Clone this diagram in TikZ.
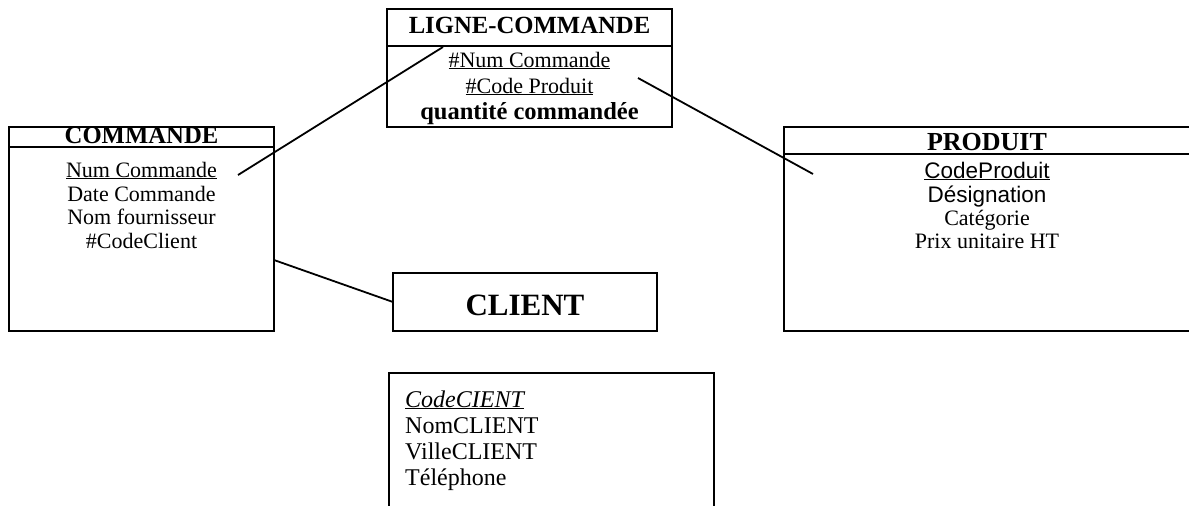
\documentclass[tikz,border=0pt]{standalone}
\usepackage{fontspec}
\setmainfont{Liberation Serif}
\newfontfamily\arialfont{Liberation Sans}
\tikzset{
  frame/.style={draw=black, line width=1.3pt, fill=none},
  conn/.style={draw=black, line width=1.8pt},
  attr/.style={anchor=base, inner sep=0pt, font=\fontsize{22}{26}\selectfont},
  sattr/.style={anchor=base, inner sep=0pt, font=\fontsize{22.5}{26}\arialfont},
  ttl/.style={anchor=base, inner sep=0pt, font=\fontsize{24.7}{28}\selectfont\bfseries},
  cattr/.style={anchor=base west, inner sep=0pt, font=\fontsize{24}{28}\selectfont},
}
\begin{document}
\begin{tikzpicture}[x=1pt,y=-1pt]
\useasboundingbox (0,0) rectangle (1189,506);
% LIGNE-COMMANDE
\draw[frame] (387,9) rectangle (672,127);
\draw[frame] (387,46) -- (672,46);
\node[ttl] (lct) at (529.5,33) {LIGNE-COMMANDE};
\node[attr] (lc1) at (529.5,67) {\underline{\#Num Commande}};
\node[attr] (lc2) at (529.5,93) {\underline{\#Code Produit}};
\node[attr, font=\fontsize{24.5}{28}\selectfont\bfseries] (lc3) at (529.5,119) {quantité commandée};
% COMMANDE
\draw[frame] (9,127) rectangle (274,331);
\draw[frame] (9,147) -- (274,147);
\node[ttl] (cmt) at (141.5,143) {COMMANDE};
\node[attr] (cm1) at (141.5,177) {\underline{Num Commande}};
\node[attr] (cm2) at (141.5,201) {Date Commande};
\node[attr] (cm3) at (141.5,224) {Nom fournisseur};
\node[attr] (cm4) at (141.5,248) {\#CodeClient};
% PRODUIT
\draw[frame] (784,127) rectangle (1191,331);
\draw[frame] (784,154) -- (1191,154);
\node[ttl, font=\fontsize{26}{30}\selectfont\bfseries] (prt) at (987,150) {PRODUIT};
\node[sattr] (pr1) at (987,178) {\underline{CodeProduit}};
\node[sattr] (pr2) at (987,202) {Désignation};
\node[attr] (pr3) at (987,225) {Catégorie};
\node[attr] (pr4) at (987,248) {Prix unitaire HT};
% CLIENT
\draw[frame] (393,273) rectangle (657,331);
\node[ttl, font=\fontsize{31}{34}\selectfont\bfseries] (clt) at (525,315) {CLIENT};
% client attributes box (open at bottom)
\draw[frame] (389,520) -- (389,373) -- (714,373) -- (714,520);
\node[cattr] (ca1) at (405,407) {\underline{\itshape CodeCIENT}};
\node[cattr] (ca2) at (405,433) {NomCLIENT};
\node[cattr] (ca3) at (405,459) {VilleCLIENT};
\node[cattr] (ca4) at (405,485) {Téléphone};
% connectors
\coordinate (a1) at (238,175);
\coordinate (a2) at (443,47);
\coordinate (b1) at (638,78);
\coordinate (b2) at (813,174);
\coordinate (c1) at (274,260);
\coordinate (c2) at (393,302);
\draw[conn] (a1) -- (a2);
\draw[conn] (b1) -- (b2);
\draw[conn] (c1) -- (c2);
\end{tikzpicture}
\end{document}
